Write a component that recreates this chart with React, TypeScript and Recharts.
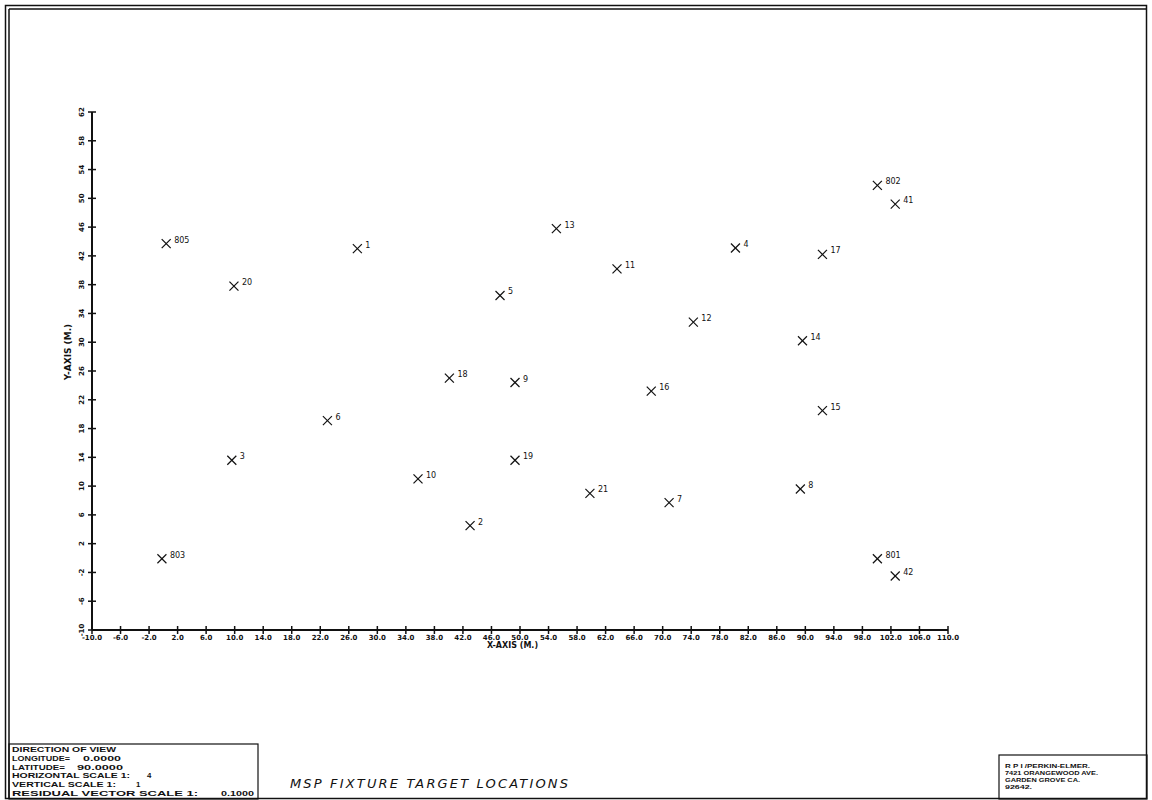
import React from 'react';
import { Scatter, ScatterChart, XAxis, YAxis } from 'recharts';

const pointIds = [
  '805', '803', '20', '3', '6', '1', '10', '18', '2', '5', '9', '19', '13', '21',
  '11', '16', '7', '12', '4', '8', '14', '15', '17', '802', '801', '41', '42',
];
const xValues = [
  0.4, -0.2, 9.9, 9.6, 23.0, 27.2, 35.7, 40.1, 43.0, 47.2, 49.3, 49.3, 55.1, 59.8,
  63.6, 68.4, 70.9, 74.3, 80.2, 89.3, 89.6, 92.4, 92.4, 100.1, 100.1, 102.6, 102.6,
];
const yValues = [
  43.7, -0.1, 37.8, 13.6, 19.1, 43.0, 11.0, 25.0, 4.5, 36.5, 24.4, 13.6, 45.8, 9.0,
  40.2, 23.2, 7.7, 32.8, 43.1, 9.6, 30.2, 20.5, 42.2, 51.8, -0.1, 49.2, -2.5,
];

const xTicks = [
  -10, -6, -2, 2, 6, 10, 14, 18, 22, 26, 30, 34, 38, 42, 46, 50, 54, 58, 62, 66,
  70, 74, 78, 82, 86, 90, 94, 98, 102, 106, 110,
];
const yTicks = [-10, -6, -2, 2, 6, 10, 14, 18, 22, 26, 30, 34, 38, 42, 46, 50, 54, 58, 62];

const viewLines = [
  'DIRECTION OF VIEW',
  'LONGITUDE=',
  'LATITUDE=',
  'HORIZONTAL SCALE 1:',
  'VERTICAL SCALE 1:',
  'RESIDUAL VECTOR SCALE 1:',
];
const viewValues = ['', '0.0000', '90.0000', '4', '1', '0.1000'];
const addressLines = ['R P I /PERKIN-ELMER.', '7421 ORANGEWOOD AVE.', 'GARDEN GROVE CA.', '92642.'];

const FONT = '"DejaVu Sans", sans-serif';
const BOX_FONT = '"Liberation Sans", Arial, sans-serif';
const INK = '#111';

const data = pointIds.map((id, i) => ({ id, x: xValues[i], y: yValues[i] }));

const XTick = (props: any) => {
  const { x, y, payload } = props;
  return (
    <g>
      <line x1={x} x2={x} y1={y - 4} y2={y + 4} stroke={INK} strokeWidth={1.5} />
      <text x={x} y={y + 10} textAnchor="middle" fontSize={7} fontWeight="bold" fontFamily={FONT} fill={INK}>
        {payload.value.toFixed(1)}
      </text>
    </g>
  );
};

const YTick = (props: any) => {
  const { x, y, payload } = props;
  const tx = x - 10;
  return (
    <g>
      <line x1={x - 4} x2={x + 4} y1={y} y2={y} stroke={INK} strokeWidth={1.5} />
      <text
        x={tx}
        y={y}
        transform={`rotate(-90, ${tx}, ${y})`}
        textAnchor="middle"
        dominantBaseline="central"
        fontSize={7}
        fontWeight="bold"
        fontFamily={FONT}
        fill={INK}
      >
        {payload.value}
      </text>
    </g>
  );
};

const Cross = (props: any) => {
  const { cx, cy, payload } = props;
  const s = 4.5;
  return (
    <g>
      <line x1={cx - s} y1={cy - s} x2={cx + s} y2={cy + s} stroke={INK} strokeWidth={1.2} />
      <line x1={cx - s} y1={cy + s} x2={cx + s} y2={cy - s} stroke={INK} strokeWidth={1.2} />
      <text x={cx + 8} y={cy - 1} fontSize={8} fontFamily={FONT} fill={INK}>
        {payload.id}
      </text>
    </g>
  );
};

// horizontal placement of the info-box texts
const viewLen = [104, 58, 53, 118, 104, 186];
const valueX = [0, 83, 77, 147, 136, 221];
const valueLen = [0, 38, 46, 0, 0, 33];
const addressLen = [85, 93, 75, 27];

export default function App() {
  return (
    <div style={{ position: 'absolute', left: 0, top: 0, width: 1152, height: 800, background: '#fff' }}>
      <ScatterChart width={1152} height={800} margin={{ top: 112, right: 204, bottom: 169, left: 91 }}>
        <XAxis
          type="number"
          dataKey="x"
          domain={[-10, 110]}
          ticks={xTicks}
          interval={0}
          height={1}
          tickSize={0}
          tickMargin={0}
          tickLine={false}
          axisLine={{ stroke: INK, strokeWidth: 2 }}
          tick={(p: any) => <XTick {...p} />}
        />
        <YAxis
          type="number"
          dataKey="y"
          domain={[-10, 62]}
          ticks={yTicks}
          interval={0}
          width={1}
          tickSize={0}
          tickMargin={0}
          tickLine={false}
          axisLine={{ stroke: INK, strokeWidth: 2 }}
          tick={(p: any) => <YTick {...p} />}
        />
        <Scatter data={data} isAnimationActive={false} shape={(p: any) => <Cross {...p} />} />
      </ScatterChart>

      <svg
        width={1152}
        height={800}
        style={{ position: 'absolute', left: 0, top: 0, pointerEvents: 'none' }}
        fontFamily={FONT}
      >
        {/* plotter frame */}
        <rect x={5.5} y={5.5} width={1141} height={793} fill="none" stroke={INK} strokeWidth={1.5} />
        <line x1={9} y1={9} x2={1146} y2={9} stroke={INK} strokeWidth={1.5} />
        <line x1={9} y1={9} x2={9} y2={798} stroke={INK} strokeWidth={1.5} />

        {/* axis titles */}
        <text x={487} y={648} fontSize={8} fontWeight="bold" fill={INK}>
          X-AXIS (M.)
        </text>
        <text
          x={68}
          y={352}
          transform="rotate(-90, 68, 352)"
          textAnchor="middle"
          dominantBaseline="central"
          fontSize={9}
          fontWeight="bold"
          fill={INK}
        >
          Y-AXIS (M.)
        </text>

        {/* view box */}
        <rect x={9} y={744} width={249} height={55} fill="none" stroke={INK} strokeWidth={1.2} />
        {viewLines.map((t, i) => (
          <text
            key={t}
            x={12}
            y={752 + i * 8.8}
            fontSize={7.8}
            fontWeight="bold"
            fontFamily={BOX_FONT}
            textLength={viewLen[i]}
            lengthAdjust="spacingAndGlyphs"
            fill={INK}
          >
            {t}
          </text>
        ))}
        {viewValues.map((t, i) =>
          t ? (
            <text
              key={i}
              x={valueX[i]}
              y={752 + i * 8.8}
              fontSize={7.8}
              fontWeight="bold"
              fontFamily={BOX_FONT}
              textLength={valueLen[i] || undefined}
              lengthAdjust="spacingAndGlyphs"
              fill={INK}
            >
              {t}
            </text>
          ) : null
        )}

        {/* title */}
        <text x={290} y={788} fontSize={13} fontStyle="italic" textLength={278} lengthAdjust="spacing" fill={INK}>
          MSP FIXTURE TARGET LOCATIONS
        </text>

        {/* address box */}
        <rect x={999} y={755} width={148} height={44} fill="none" stroke={INK} strokeWidth={1.2} />
        {addressLines.map((t, i) => (
          <text
            key={t}
            x={1005}
            y={768 + i * 7}
            fontSize={6}
            fontWeight="bold"
            fontFamily={BOX_FONT}
            textLength={addressLen[i]}
            lengthAdjust="spacingAndGlyphs"
            fill={INK}
          >
            {t}
          </text>
        ))}
      </svg>
    </div>
  );
}
